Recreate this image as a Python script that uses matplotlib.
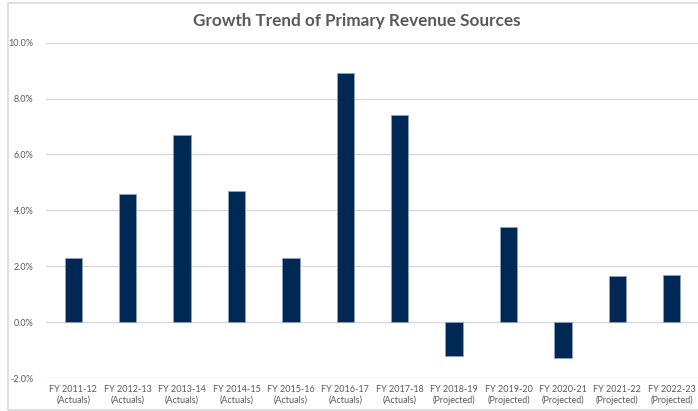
import matplotlib
matplotlib.use("Agg")
import matplotlib.pyplot as plt
import matplotlib.patches as patches
from matplotlib.ticker import FuncFormatter

# data
years = ["FY 2011-12", "FY 2012-13", "FY 2013-14", "FY 2014-15", "FY 2015-16",
         "FY 2016-17", "FY 2017-18", "FY 2018-19", "FY 2019-20", "FY 2020-21",
         "FY 2021-22", "FY 2022-23"]
kind = ["Actuals"] * 7 + ["Projected"] * 5
growth = [2.3, 4.6, 6.7, 4.7, 2.3, 8.9, 7.4, -1.2, 3.4, -1.3, 1.65, 1.7]
yticks = [-2, 0, 2, 4, 6, 8, 10]

plt.rcParams['font.family'] = ['Lato', 'DejaVu Sans']
txt_col = "#595959"
grid_col = "#d9d9d9"

fig = plt.figure(figsize=(6.98, 4.11), dpi=100)
fig.patch.set_facecolor("white")

# outer chart frame
fig.patches.append(patches.Rectangle((8 / 698, 1 / 411), 700 / 698, 407 / 411,
                                     transform=fig.transFigure, fill=False,
                                     edgecolor=grid_col, linewidth=1.2))

ax = fig.add_axes([46 / 698, 1 - 378 / 411, 653 / 698, (378 - 42.7) / 411])

labels = [y + "\n(" + k + ")" for y, k in zip(years, kind)]
x = list(range(len(years)))
ax.bar(x, growth, width=0.32, color="#002855", edgecolor="#8fa3bf",
       linewidth=0.6, zorder=3)

ax.set_xlim(-0.5, len(years) - 0.5)
ax.set_ylim(-2, 10)
ax.set_yticks(yticks)
ax.yaxis.set_major_formatter(FuncFormatter(lambda v, p: f"{v:.1f}%"))
ax.set_xticks(x)
ax.set_xticklabels(labels, fontsize=6.5, color=txt_col, linespacing=1.2)
ax.tick_params(axis="y", labelsize=6.5, labelcolor=txt_col, length=0, pad=9)
ax.tick_params(axis="x", length=0, pad=5)

ax.grid(axis="y", color=grid_col, linewidth=1, zorder=0)
for s in ax.spines.values():
    s.set_visible(False)

fig.text(357 / 698, 1 - 21 / 411, "Growth Trend of Primary Revenue Sources",
         ha="center", va="center", fontsize=12.3, fontweight="bold", color=txt_col)

fig.savefig("out.png", dpi=100)
